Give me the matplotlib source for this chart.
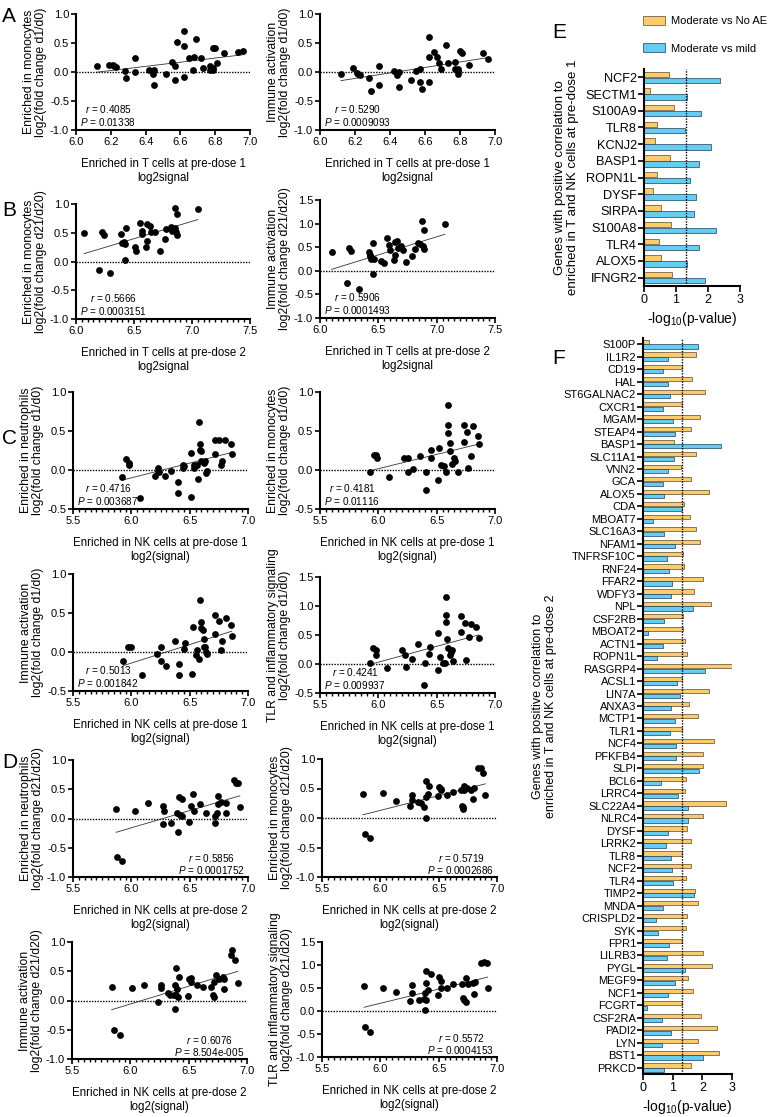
import numpy as np
import matplotlib
matplotlib.use('Agg')
import matplotlib.pyplot as plt
from matplotlib.patches import Patch
from matplotlib.ticker import MultipleLocator, FormatStrFormatter

plt.rcParams['font.family'] = 'Liberation Sans'
plt.rcParams['mathtext.fontset'] = 'custom'
plt.rcParams['mathtext.rm'] = 'Liberation Sans'
plt.rcParams['mathtext.it'] = 'Liberation Sans:italic'
plt.rcParams['axes.unicode_minus'] = False

# ---- panel A: T cells at pre-dose 1 ----
a_mono_x = [6.12, 6.19, 6.21, 6.22, 6.23, 6.28, 6.29, 6.34, 6.34, 6.42, 6.44, 6.45, 6.45, 6.52, 6.55,
            6.57, 6.57, 6.58, 6.62, 6.62, 6.62, 6.65, 6.67, 6.68, 6.69, 6.72, 6.73, 6.77, 6.77, 6.79,
            6.79, 6.79, 6.80, 6.81, 6.85, 6.93, 6.96]
a_mono_y = [0.10, 0.12, 0.12, 0.11, 0.08, 0.01, -0.11, 0.24, 0.00, 0.04, -0.03, 0.03, -0.23, -0.04, 0.17,
            0.11, -0.14, 0.51, 0.71, 0.44, -0.09, 0.24, 0.03, 0.26, 0.57, 0.24, 0.07, 0.10, 0.04, 0.07,
            0.04, 0.41, 0.42, 0.16, 0.32, 0.34, 0.37]
a_immune_x = a_mono_x
a_immune_y = [-0.03, 0.07, -0.01, -0.04, -0.06, -0.10, -0.32, 0.11, -0.22, 0.02, -0.05, -0.26, 0.00, -0.14, 0.02,
              0.06, -0.18, -0.30, 0.26, 0.61, -0.17, 0.34, 0.26, 0.15, 0.06, 0.47, 0.15, 0.18, 0.06, 0.02,
              -0.03, 0.05, 0.37, 0.33, 0.12, 0.32, 0.22]

# ---- panel B: T cells at pre-dose 2 ----
b_mono_x = [6.07, 6.22, 6.24, 6.20, 6.29, 6.39, 6.40, 6.41, 6.42, 6.43, 6.42, 6.51, 6.52, 6.55, 6.57,
            6.57, 6.60, 6.61, 6.61, 6.64, 6.65, 6.68, 6.72, 6.77, 6.78, 6.82, 6.83, 6.85, 6.86, 6.87,
            6.87, 6.85, 7.05]
b_mono_y = [0.49, 0.52, 0.46, -0.14, -0.20, 0.48, 0.32, 0.34, 0.30, 0.59, 0.03, 0.25, 0.19, 0.67, 0.53,
            0.48, 0.26, 0.36, 0.66, 0.61, 0.52, 0.52, 0.19, 0.39, 0.56, 0.60, 0.53, 0.59, 0.52, 0.46,
            0.83, 0.93, 0.92]
b_immune_x = [6.10, 6.23, 6.25, 6.27, 6.33, 6.42, 6.43, 6.44, 6.45, 6.45, 6.46, 6.43, 6.52, 6.55, 6.57,
              6.59, 6.60, 6.63, 6.64, 6.64, 6.66, 6.67, 6.69, 6.71, 6.74, 6.79, 6.81, 6.84, 6.86, 6.87,
              6.88, 6.89, 6.89, 7.07]
b_immune_y = [0.40, -0.25, 0.49, 0.41, -0.39, 0.39, 0.31, 0.24, -0.06, 0.59, 0.25, 0.34, 0.21, 0.16, 0.70,
              0.54, 0.44, 0.22, 0.61, 0.34, 0.63, 0.49, 0.52, 0.45, 0.19, 0.32, 0.46, 0.58, 0.57, 1.06,
              0.52, 0.86, 0.47, 0.99]

# ---- panel C: NK cells at pre-dose 1 ----
c_neut_x = [5.92, 5.95, 5.98, 5.98, 6.07, 6.20, 6.23, 6.23, 6.24, 6.29, 6.34, 6.40, 6.40, 6.44, 6.44,
            6.45, 6.51, 6.51, 6.54, 6.54, 6.56, 6.57, 6.59, 6.59, 6.60, 6.60, 6.62, 6.63, 6.64, 6.65,
            6.72, 6.72, 6.75, 6.77, 6.78, 6.80, 6.85, 6.86, 6.58]
c_neut_y = [-0.09, 0.14, 0.09, 0.06, -0.36, -0.08, 0.03, -0.01, -0.03, -0.08, -0.01, -0.16, -0.30, 0.07, 0.02,
            0.05, -0.34, 0.22, 0.03, 0.07, 0.06, -0.12, 0.33, 0.26, 0.24, 0.12, 0.09, 0.11, -0.04, -0.01,
            0.38, 0.21, 0.39, 0.07, 0.12, 0.39, 0.33, 0.21, 0.62]
c_mono_x = [5.93, 5.96, 5.98, 5.99, 6.09, 6.22, 6.25, 6.25, 6.30, 6.36, 6.41, 6.41, 6.45, 6.45, 6.52,
            6.51, 6.54, 6.56, 6.58, 6.60, 6.60, 6.61, 6.61, 6.63, 6.65, 6.66, 6.68, 6.73, 6.73, 6.76,
            6.77, 6.79, 6.81, 6.85, 6.86, 6.60]
c_mono_y = [-0.03, 0.19, 0.19, 0.15, -0.09, 0.16, 0.16, -0.02, 0.01, 0.18, -0.02, -0.25, 0.26, 0.16, 0.28,
            -0.13, 0.07, 0.05, -0.02, 0.58, 0.48, 0.35, 0.25, 0.08, 0.16, 0.11, -0.02, 0.58, 0.36, 0.49,
            0.03, 0.18, 0.56, 0.44, 0.33, 0.83]
c_immune_x = [5.93, 5.97, 6.00, 6.09, 6.22, 6.25, 6.25, 6.30, 6.37, 6.41, 6.41, 6.45, 6.46, 6.52, 6.53,
              6.55, 6.56, 6.58, 6.59, 6.60, 6.60, 6.61, 6.62, 6.62, 6.63, 6.64, 6.65, 6.72, 6.72, 6.75,
              6.77, 6.78, 6.81, 6.85, 6.86]
c_immune_y = [-0.12, 0.06, 0.06, -0.30, -0.02, 0.07, -0.11, -0.18, 0.14, -0.16, -0.29, 0.04, 0.12, -0.28, 0.32,
              -0.04, 0.03, -0.09, 0.67, 0.39, 0.31, 0.28, 0.17, 0.06, 0.06, 0.00, -0.02, 0.47, 0.23, 0.40,
              0.03, 0.14, 0.44, 0.34, 0.20]
c_tlr_x = [5.93, 5.95, 5.98, 5.98, 6.07, 6.20, 6.23, 6.24, 6.29, 6.34, 6.39, 6.40, 6.43, 6.44, 6.51,
           6.51, 6.53, 6.55, 6.57, 6.58, 6.58, 6.58, 6.59, 6.60, 6.61, 6.62, 6.63, 6.64, 6.71, 6.71,
           6.74, 6.75, 6.78, 6.79, 6.84, 6.86]
c_tlr_y = [0.01, 0.28, 0.24, 0.15, -0.07, 0.25, 0.16, -0.06, 0.08, 0.34, -0.36, 0.01, 0.17, 0.29, 0.53,
           -0.11, 0.12, 0.01, 0.01, 1.15, 0.84, 0.72, 0.43, 0.28, 0.15, 0.21, 0.24, 0.05, 0.83, 0.55,
           0.70, 0.07, 0.47, 0.69, 0.63, 0.44]

# ---- panel D: NK cells at pre-dose 2 ----
d_neut_x = [5.87, 5.88, 5.92, 6.03, 6.14, 6.27, 6.27, 6.28, 6.34, 6.39, 6.40, 6.41, 6.42, 6.43, 6.43,
            6.49, 6.51, 6.53, 6.54, 6.59, 6.64, 6.72, 6.72, 6.73, 6.74, 6.74, 6.77, 6.81, 6.81, 6.88,
            6.90, 6.91, 6.93]
d_neut_y = [0.16, -0.65, -0.72, 0.12, 0.26, -0.10, 0.22, 0.12, -0.07, 0.09, -0.23, 0.36, 0.06, 0.33, 0.04,
            -0.06, 0.22, 0.42, 0.13, 0.24, 0.10, 0.04, -0.07, 0.09, 0.39, 0.24, 0.28, 0.26, 0.09, 0.65,
            0.61, 0.60, 0.20]
d_mono_x = [5.85, 5.87, 5.91, 6.02, 6.13, 6.25, 6.27, 6.27, 6.32, 6.35, 6.37, 6.39, 6.39, 6.39, 6.41,
            6.42, 6.49, 6.50, 6.52, 6.52, 6.57, 6.62, 6.69, 6.70, 6.71, 6.71, 6.72, 6.72, 6.74, 6.78,
            6.79, 6.80, 6.84, 6.86, 6.88, 6.90]
d_mono_y = [0.40, -0.27, -0.34, 0.42, 0.29, 0.21, 0.39, 0.31, 0.27, 0.26, 0.18, 0.63, 0.36, 0.00, 0.40,
            0.55, 0.37, 0.52, 0.50, 0.47, 0.39, 0.44, 0.47, 0.21, 0.19, 0.16, 0.55, 0.47, 0.51, 0.47,
            0.32, 0.51, 0.85, 0.85, 0.77, 0.39]
d_immune_x = [5.84, 5.86, 5.91, 6.01, 6.12, 6.24, 6.26, 6.26, 6.32, 6.34, 6.37, 6.38, 6.38, 6.39, 6.39,
              6.40, 6.42, 6.41, 6.49, 6.50, 6.52, 6.52, 6.57, 6.62, 6.69, 6.71, 6.72, 6.72, 6.73, 6.76,
              6.79, 6.80, 6.80, 6.86, 6.87, 6.90, 6.92]
d_immune_y = [0.23, -0.51, -0.59, 0.21, 0.26, -0.03, 0.26, 0.22, 0.13, 0.10, 0.10, 0.26, -0.14, 0.56, 0.10,
              0.20, 0.41, 0.06, 0.07, 0.36, 0.39, 0.32, 0.26, 0.23, 0.23, 0.09, 0.06, 0.32, 0.44, 0.37,
              0.41, 0.36, 0.20, 0.78, 0.87, 0.69, 0.30]
d_tlr_x = [5.86, 5.87, 5.91, 6.02, 6.13, 6.25, 6.27, 6.27, 6.33, 6.37, 6.38, 6.38, 6.39, 6.39, 6.39,
           6.41, 6.43, 6.49, 6.50, 6.52, 6.52, 6.57, 6.62, 6.70, 6.71, 6.72, 6.73, 6.73, 6.75, 6.79,
           6.80, 6.81, 6.86, 6.89, 6.91, 6.92]
d_tlr_y = [0.54, -0.34, -0.46, 0.50, 0.41, 0.21, 0.39, 0.57, 0.25, 0.26, 0.39, 0.02, 0.86, 0.61, 0.25,
           0.45, 0.81, 0.34, 0.75, 0.66, 0.50, 0.49, 0.59, 0.59, 0.29, 0.24, 0.20, 0.71, 0.59, 0.61,
           0.36, 0.63, 1.04, 1.06, 1.04, 0.50]

# ---- panel E: genes, pre-dose 1 ----
e_genes = ['NCF2', 'SECTM1', 'S100A9', 'TLR8', 'KCNJ2', 'BASP1', 'ROPN1L', 'DYSF', 'SIRPA',
           'S100A8', 'TLR4', 'ALOX5', 'IFNGR2']
e_no_ae = [0.78, 0.20, 0.95, 0.42, 0.34, 0.81, 0.41, 0.28, 0.53, 0.84, 0.47, 0.53, 0.86]
e_mild = [2.39, 1.34, 1.79, 1.29, 2.10, 1.72, 1.44, 1.63, 1.55, 2.25, 1.72, 1.34, 1.91]

# ---- panel F: genes, pre-dose 2 ----
f_genes = ['S100P', 'IL1R2', 'CD19', 'HAL', 'ST6GALNAC2', 'CXCR1', 'MGAM', 'STEAP4', 'BASP1',
           'SLC11A1', 'VNN2', 'GCA', 'ALOX5', 'CDA', 'MBOAT7', 'SLC16A3', 'NFAM1', 'TNFRSF10C',
           'RNF24', 'FFAR2', 'WDFY3', 'NPL', 'CSF2RB', 'MBOAT2', 'ACTN1', 'ROPN1L', 'RASGRP4',
           'ACSL1', 'LIN7A', 'ANXA3', 'MCTP1', 'TLR1', 'NCF4', 'PFKFB4', 'SLPI', 'BCL6', 'LRRC4',
           'SLC22A4', 'NLRC4', 'DYSF', 'LRRK2', 'TLR8', 'NCF2', 'TLR4', 'TIMP2', 'MNDA', 'CRISPLD2',
           'SYK', 'FPR1', 'LILRB3', 'PYGL', 'MEGF9', 'NCF1', 'FCGRT', 'CSF2RA', 'PADI2', 'LYN',
           'BST1', 'PRKCD']
f_no_ae = [0.21, 1.78, 1.30, 1.66, 2.09, 1.30, 1.93, 1.62, 1.03, 1.78, 1.28, 1.62, 2.21, 1.38,
           1.59, 1.79, 1.93, 1.34, 1.38, 2.01, 1.72, 2.28, 1.34, 1.34, 1.41, 1.47, 3.05, 1.30,
           2.21, 1.55, 1.84, 1.30, 2.38, 2.01, 2.03, 1.45, 1.41, 2.79, 2.01, 1.47, 1.61, 1.30,
           1.63, 1.45, 1.76, 1.84, 1.47, 1.45, 1.30, 2.03, 2.33, 1.52, 1.67, 1.30, 1.95, 2.51,
           1.84, 2.55, 1.63]
f_mild = [1.86, 0.83, 0.69, 0.83, 0.90, 0.69, 1.00, 1.07, 2.62, 1.03, 0.83, 0.67, 0.72, 1.30,
          0.34, 0.72, 1.07, 0.80, 0.86, 0.98, 0.94, 1.69, 0.70, 0.17, 0.69, 0.48, 2.10, 1.13,
          1.24, 0.94, 1.07, 0.90, 1.10, 1.10, 1.90, 0.62, 1.17, 1.52, 1.52, 0.83, 0.77, 0.94,
          0.98, 1.00, 1.72, 0.69, 0.45, 0.52, 0.86, 0.80, 1.41, 1.07, 0.83, 0.14, 0.63, 0.94,
          0.63, 2.03, 0.72]

W, H = 771, 1117
fig = plt.figure(figsize=(W / 100, H / 100), dpi=100)


def add_ax(x0, y0, x1, y1):
    # pixel box -> figure fraction
    return fig.add_axes([x0 / W, 1 - y1 / H, (x1 - x0) / W, (y1 - y0) / H])


def style(ax):
    for s in ['top', 'right']:
        ax.spines[s].set_visible(False)
    for s in ['left', 'bottom']:
        ax.spines[s].set_linewidth(1.5)
    ax.tick_params(which='major', length=3.5, width=1.2, labelsize=8, pad=1.5)
    ax.tick_params(which='minor', length=2, width=1)


def scatter(box, x, y, xlim, xstep, xminor, ylim, ylabel, xlabel, r, p, corner='left'):
    ax = add_ax(*box)
    ax.axhline(0, color='black', lw=1.0, ls=(0, (1, 1)), zorder=1)
    fit = np.polyfit(x, y, 1)
    xs = np.array([min(x), max(x)])
    ax.plot(xs, np.polyval(fit, xs), color='#333333', lw=0.6, zorder=2)
    ax.scatter(x, y, s=24, color='black', linewidths=0, zorder=3, clip_on=False)
    ax.set_xlim(xlim)
    ax.set_ylim(ylim)
    ax.xaxis.set_major_locator(MultipleLocator(xstep))
    if xminor:
        ax.xaxis.set_minor_locator(MultipleLocator(xminor))
    ax.yaxis.set_major_locator(MultipleLocator(0.5))
    ax.xaxis.set_major_formatter(FormatStrFormatter('%.1f'))
    ax.yaxis.set_major_formatter(FormatStrFormatter('%.1f'))
    style(ax)
    ax.set_ylabel(ylabel, fontsize=8.8, labelpad=2, linespacing=1.0)
    ax.set_xlabel(xlabel, fontsize=8.3, labelpad=8, linespacing=1.2)
    txt = '$\\it{r}$ = ' + r + '\n$\\it{P}$ = ' + p
    if corner == 'left':
        ax.text(0.025, 0.02, txt, transform=ax.transAxes, fontsize=7.2, ha='left', va='bottom',
                multialignment='center', linespacing=1.05)
    else:
        ax.text(0.985, 0.005, txt, transform=ax.transAxes, fontsize=7.2, ha='right', va='bottom',
                multialignment='center', linespacing=1.05)
    return ax


xl_a = 'Enriched in T cells at pre-dose 1\nlog2signal'
xl_b = 'Enriched in T cells at pre-dose 2\nlog2signal'
xl_c = 'Enriched in NK cells at pre-dose 1\nlog2(signal)'
xl_d = 'Enriched in NK cells at pre-dose 2\nlog2(signal)'

scatter((76, 14, 250, 130), a_mono_x, a_mono_y, (6.0, 7.0), 0.2, None, (-1.0, 1.0),
        'Enriched in monocytes\nlog2(fold change d1/d0)', xl_a, '0.4085', '0.01338')
scatter((320, 14, 495, 130), a_immune_x, a_immune_y, (6.0, 7.0), 0.2, None, (-1.0, 1.0),
        'Immune activation\nlog2(fold change d1/d0)', xl_a, '0.5290', '0.0009093')

scatter((76, 204, 250, 319), b_mono_x, b_mono_y, (6.0, 7.5), 0.5, 0.05, (-1.0, 1.0),
        'Enriched in monocytes\nlog2(fold change d21/d20)', xl_b, '0.5666', '0.0003151')
scatter((320, 200, 495, 318), b_immune_x, b_immune_y, (6.0, 7.5), 0.5, 0.05, (-1.0, 1.5),
        'Immune activation\nlog2(fold change d21/d20)', xl_b, '0.5906', '0.0001493')

scatter((73, 392, 248, 509), c_neut_x, c_neut_y, (5.5, 7.0), 0.5, 0.05, (-0.5, 1.0),
        'Enriched in neutrophils\nlog2(fold change d1/d0)', xl_c, '0.4716', '0.003687')
scatter((320, 392, 495, 509), c_mono_x, c_mono_y, (5.5, 7.0), 0.5, 0.05, (-0.5, 1.0),
        'Enriched in monocytes\nlog2(fold change d1/d0)', xl_c, '0.4181', '0.01116')
scatter((73, 574, 248, 691), c_immune_x, c_immune_y, (5.5, 7.0), 0.5, 0.05, (-0.5, 1.0),
        'Immune activation\nlog2(fold change d1/d0)', xl_c, '0.5013', '0.001842')
scatter((320, 577, 495, 693), c_tlr_x, c_tlr_y, (5.5, 7.0), 0.5, 0.05, (-0.5, 1.5),
        'TLR and inflammatory signaling\nlog2(fold change d1/d0)', xl_c, '0.4241', '0.009937')

scatter((73, 760, 248, 877), d_neut_x, d_neut_y, (5.5, 7.0), 0.5, 0.05, (-1.0, 1.0),
        'Enriched in neutrophils\nlog2(fold change d21/d20)', xl_d, '0.5856', '0.0001752', 'right')
scatter((322, 759, 497, 877), d_mono_x, d_mono_y, (5.5, 7.0), 0.5, 0.05, (-1.0, 1.0),
        'Enriched in monocytes\nlog2(fold change d21/d20)', xl_d, '0.5719', '0.0002686', 'right')
scatter((72, 942, 247, 1059), d_immune_x, d_immune_y, (5.5, 7.0), 0.5, 0.05, (-1.0, 1.0),
        'Immune activation\nlog2(fold change d21/d20)', xl_d, '0.6076', '8.504e-005', 'right')
scatter((322, 942, 497, 1057), d_tlr_x, d_tlr_y, (5.5, 7.0), 0.5, 0.05, (-1.0, 1.5),
        'TLR and inflammatory signaling\nlog2(fold change d21/d20)', xl_d, '0.5572', '0.0004153', 'right')

orange = '#FBCB6E'
blue = '#66CDF2'


def bars(box, genes, v1, v2, xmax, ylabel, labelsize, ylsize):
    ax = add_ax(*box)
    idx = np.arange(len(genes))
    ax.barh(idx - 0.18, v1, height=0.33, color=orange, edgecolor='#5a4a2a', lw=0.5, zorder=2)
    ax.barh(idx + 0.18, v2, height=0.33, color=blue, edgecolor='#1d3f5a', lw=0.5, zorder=2)
    ax.axvline(-np.log10(0.05), color='black', lw=1.0, ls=(0, (1, 1)), zorder=3)
    ax.set_ylim(len(genes) - 0.5, -0.5)
    ax.set_xlim(0, xmax)
    ax.set_yticks(idx)
    ax.set_yticklabels(genes)
    ax.set_xticks([0, 1, 2, 3])
    style(ax)
    ax.tick_params(axis='y', labelsize=labelsize, length=4, pad=1)
    ax.tick_params(axis='x', labelsize=9, length=4)
    ax.set_xlabel('-log$_{10}$(p-value)', fontsize=10, labelpad=3)
    ax.set_ylabel(ylabel, fontsize=ylsize, labelpad=5, linespacing=1.1)
    return ax


bars((644, 69, 740, 286), e_genes, e_no_ae, e_mild, 3.0,
     'Genes with positive correlation to\nenriched in T and NK cells at pre-dose 1', 9.2, 9.5)
bars((643, 338, 732, 1074), f_genes, f_no_ae, f_mild, 3.0,
     'Genes with positive correlation to\nenriched in T and NK cells at pre-dose 2', 8, 9)

fig.legend(handles=[Patch(facecolor=orange, edgecolor='#5a4a2a', lw=0.5, label='Moderate vs No AE'),
                    Patch(facecolor=blue, edgecolor='#1d3f5a', lw=0.5, label='Moderate vs mild')],
           loc='upper left', bbox_to_anchor=(643 / W, 1 - 16 / H), frameon=False, fontsize=8.0,
           handlelength=2.0, handleheight=0.9, labelspacing=1.5, handletextpad=0.55, borderaxespad=0,
           borderpad=0)

for letter, x, y in [('A', 2, 16), ('B', 2, 210), ('C', 2, 438), ('D', 2, 763), ('E', 552, 32), ('F', 552, 358)]:
    fig.text(x / W, 1 - y / H, letter, fontsize=15, ha='left', va='center')

fig.savefig('out.png', dpi=100)
